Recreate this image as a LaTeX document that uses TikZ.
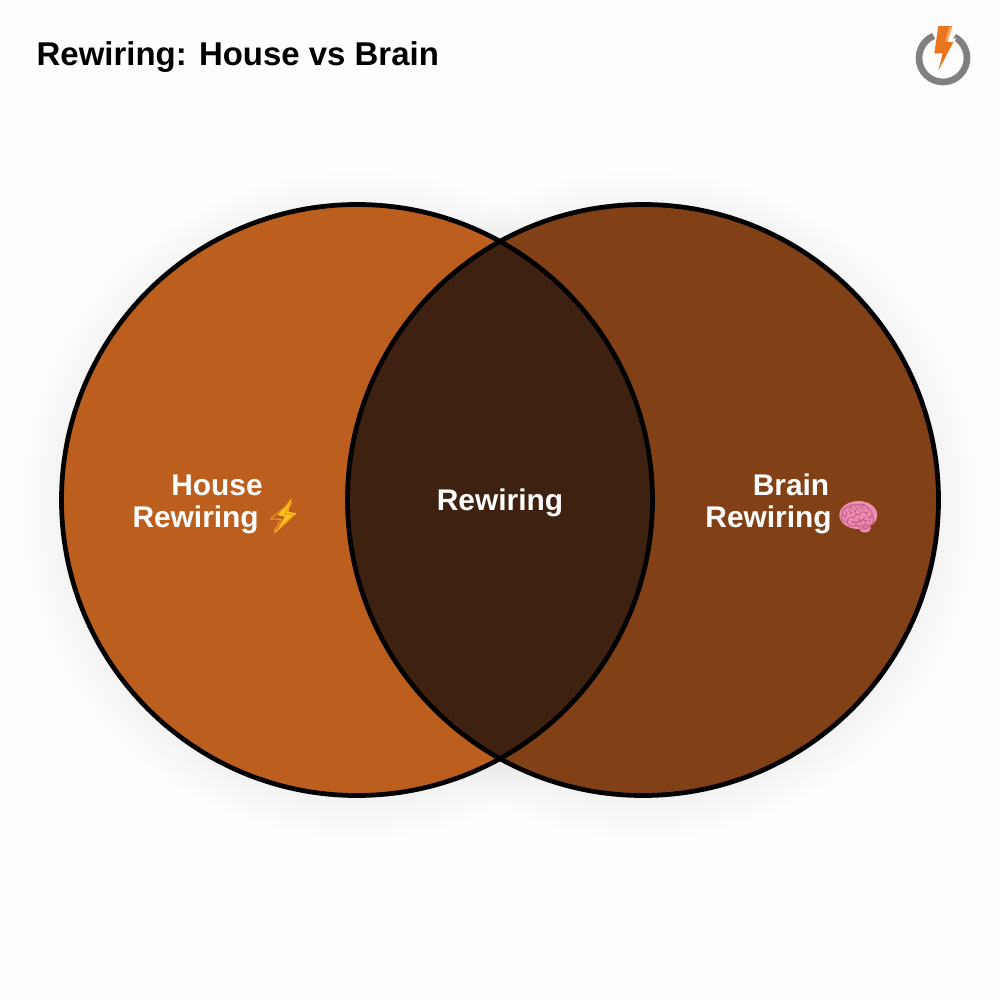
\documentclass[tikz,border=0pt]{standalone}
\usepackage{fontspec}
\setmainfont{Liberation Sans}
\newfontfamily\emojifont{Noto Emoji}
\definecolor{houseC}{HTML}{BC5F1E}
\definecolor{brainC}{HTML}{824016}
\definecolor{overlapC}{HTML}{3F2111}
\definecolor{ringC}{HTML}{808080}
\definecolor{boltC}{HTML}{E8751F}
\definecolor{boltL}{HTML}{F5A25B}
\definecolor{zapC}{HTML}{FFC31F}
\definecolor{zapD}{HTML}{F09A1A}
\definecolor{brainPink}{HTML}{EE8DB2}
\definecolor{brainD}{HTML}{C9608C}
\definecolor{pageC}{HTML}{FDFDFD}
\tikzset{
  x=0.01cm,y=-0.01cm,
  venn/.style={draw=black,line width=1.35pt,fill=none},
  label/.style={text=white,font=\bfseries\fontsize{8.5}{9.1}\selectfont,align=center,inner sep=0pt},
  halo/.style={fill=black,fill opacity=0.0025,draw=none},
}
\begin{document}
\begin{tikzpicture}
\useasboundingbox (0,0) rectangle (1000,1000);
\fill[pageC] (0,0) rectangle (1000,1000);
% soft shadow
\foreach \r in {297,301,305,309,313,317,321,325,329,333}{
  \fill[halo] (357,505) circle[radius=\r];
  \fill[halo] (643,505) circle[radius=\r];
}
% fills
\fill[houseC] (357,500) circle[radius=295.5];
\fill[brainC] (643,500) circle[radius=295.5];
\begin{scope}
  \clip (357,500) circle[radius=295.5];
  \fill[overlapC] (643,500) circle[radius=295.5];
\end{scope}
% outlines
\draw[venn] (357,500) circle[radius=295.5];
\draw[venn] (643,500) circle[radius=295.5];
% emoji bodies
\fill[zapC] (291.7,498.3) -- (277.7,515) -- (285,516.7) -- (274,534) -- (296.7,513.3) -- (288.3,511.7) -- cycle;
\fill[brainPink] (858.3,515) ellipse[x radius=19,y radius=14];
\fill[brainPink] (865,528) ellipse[x radius=6,y radius=4.5];
% texts
\node[anchor=base west,inner sep=0pt,font=\bfseries\fontsize{9.37}{11}\selectfont,text=black] (title) at (36,65) {Rewiring: House vs Brain};
\node[label] (house) at (217,504) {House\\Rewiring\hspace{-1pt} {\emojifont\textcolor{zapD}{\symbol{"26A1}}}};
\node[label] (mid) at (500,503) {Rewiring};
\node[label] (brain) at (791,504) {Brain\\Rewiring\hspace{-0.4pt} {\emojifont\textcolor{brainD}{\symbol{"1F9E0}}}};
% logo
\draw[ringC,line width=1.9pt] (943,58) ++(247:24) arc[start angle=247,end angle=-62,radius=24];
\fill[pageC] (946,40) -- (956,38) -- (953,47) -- (943,56) -- cycle;
\fill[boltC] (938.3,26) -- (952.3,26) -- (947.3,41.7) -- (953.3,42.3) -- (938.3,70.7) -- (942.7,53.3) -- (934.3,53.3) -- cycle;
\fill[boltL] (949,27) -- (952.3,26) -- (947.3,41.7) -- (945,41.5) -- cycle;
\end{tikzpicture}
\end{document}
